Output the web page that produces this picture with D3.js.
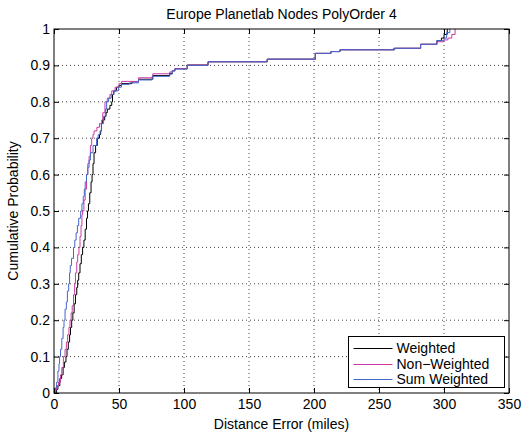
<!DOCTYPE html>
<html>
<head>
<meta charset="utf-8">
<script src="https://cdn.jsdelivr.net/npm/d3@7"></script>
<style>
  body { margin: 0; background: #fff; }
  text { font-family: "Liberation Sans", Arial, sans-serif; }
</style>
</head>
<body>
<script>
// tick values
const xTicks = [0, 50, 100, 150, 200, 250, 300, 350];
const yTicks = [0, 0.1, 0.2, 0.3, 0.4, 0.5, 0.6, 0.7, 0.8, 0.9, 1];

// series: [distance error (miles), cumulative probability]
const weighted = [
  [0, 0], [2, 0.01], [3, 0.02], [4.5, 0.04], [5.9, 0.05], [7, 0.07], [8, 0.085],
  [9.2, 0.1], [10, 0.12], [11, 0.14], [12, 0.16], [12.7, 0.18], [13.6, 0.2],
  [14.5, 0.22], [15.5, 0.245], [16.5, 0.27], [17.5, 0.29], [18.2, 0.31], [19, 0.33],
  [20, 0.355], [21, 0.38], [22, 0.4], [23, 0.42], [24, 0.45], [25, 0.48], [25.8, 0.5],
  [26.5, 0.52], [27.5, 0.55], [28.5, 0.58], [29.3, 0.6], [30, 0.63], [30.8, 0.66],
  [32, 0.68], [33.3, 0.7], [35, 0.71], [35.9, 0.72], [36.5, 0.74], [37.4, 0.75],
  [39, 0.76], [40, 0.77], [41, 0.78], [43, 0.79], [44.4, 0.8], [45, 0.82], [46, 0.83],
  [48, 0.84], [50, 0.845], [52, 0.85], [60, 0.855], [65, 0.862], [76, 0.872],
  [89, 0.878], [91, 0.885], [93, 0.891], [102.5, 0.901], [118.5, 0.91], [164, 0.917],
  [201, 0.933], [213, 0.938], [220, 0.943], [262, 0.947], [282, 0.958], [294.5, 0.968],
  [298, 0.975], [300, 0.985], [302.5, 1]
];
const nonWeighted = [
  [0, 0], [0.8, 0.01], [2, 0.02], [3.5, 0.03], [5, 0.05], [6, 0.07], [7.2, 0.1],
  [8.5, 0.12], [9.5, 0.14], [10.5, 0.16], [11.5, 0.18], [12.3, 0.2], [13.2, 0.22],
  [14, 0.24], [15, 0.27], [15.9, 0.3], [16.5, 0.33], [17.5, 0.36], [18.2, 0.38],
  [19.2, 0.4], [20, 0.43], [20.8, 0.46], [21.5, 0.49], [22, 0.5], [23, 0.53],
  [24, 0.56], [25, 0.6], [26, 0.63], [27, 0.65], [28, 0.68], [29, 0.7], [30, 0.71],
  [30.8, 0.72], [33, 0.73], [35, 0.74], [36.7, 0.75], [37.5, 0.77], [39.2, 0.8],
  [41, 0.81], [43, 0.82], [44.4, 0.83], [47, 0.84], [50, 0.85], [52, 0.856],
  [65, 0.866], [76, 0.877], [89, 0.882], [91, 0.886], [93, 0.891], [102.5, 0.901],
  [118.5, 0.91], [164, 0.917], [201, 0.933], [213, 0.938], [220, 0.943], [261, 0.947],
  [282, 0.958], [294.5, 0.965], [300, 0.97], [303, 0.975], [306, 0.985], [308.5, 1]
];
const sumWeighted = [
  [0, 0], [1.3, 0.015], [2, 0.03], [3, 0.06], [3.8, 0.08], [4.3, 0.1], [5, 0.12],
  [6, 0.15], [7, 0.18], [7.7, 0.2], [8.5, 0.23], [9.5, 0.25], [10.3, 0.28],
  [11.3, 0.3], [12, 0.33], [12.5, 0.35], [13.5, 0.37], [15, 0.4], [16, 0.42],
  [17, 0.44], [18, 0.46], [19, 0.48], [20.5, 0.5], [21.5, 0.52], [22.5, 0.54],
  [23.3, 0.56], [24, 0.58], [25, 0.6], [26, 0.62], [27, 0.64], [28, 0.66], [30, 0.68],
  [32.8, 0.7], [34, 0.71], [35.4, 0.72], [36.5, 0.74], [38, 0.76], [39.5, 0.78],
  [40.5, 0.8], [42, 0.81], [44, 0.82], [46, 0.83], [49.5, 0.84], [51.8, 0.848],
  [58, 0.852], [65, 0.86], [75.5, 0.87], [89, 0.876], [91, 0.885], [93, 0.89],
  [102.5, 0.9], [118.5, 0.91], [164, 0.917], [201, 0.933], [213, 0.938], [220, 0.943],
  [262, 0.947], [282, 0.958], [294.5, 0.968], [300, 0.975], [302, 0.99], [304.5, 1]
];

const seriesNames = ["Weighted", "Non\u2212Weighted", "Sum Weighted"];
const seriesData = [weighted, nonWeighted, sumWeighted];
const colors = ["#000000", "#cc3aa3", "#4466cc"];

const margin = { top: 29, right: 22, bottom: 41, left: 54 },
    width = 531 - margin.left - margin.right,
    height = 434 - margin.top - margin.bottom;

const svg = d3.select("body")
    .append("svg")
    .attr("width", 531)
    .attr("height", 434);

const g = svg.append("g")
    .attr("transform", "translate(" + margin.left + "," + margin.top + ")");

const x = d3.scaleLinear().domain([0, 350]).range([0, width]);
const y = d3.scaleLinear().domain([0, 1]).range([height, 0]);

// grid
g.append("g")
    .selectAll("line")
    .data(xTicks.slice(1, -1))
    .join("line")
    .attr("x1", d => x(d)).attr("x2", d => x(d))
    .attr("y1", 0).attr("y2", height)
    .attr("stroke", "#444")
    .attr("stroke-dasharray", "1,3");

g.append("g")
    .selectAll("line")
    .data(yTicks.slice(1, -1))
    .join("line")
    .attr("x1", 0).attr("x2", width)
    .attr("y1", d => y(d)).attr("y2", d => y(d))
    .attr("stroke", "#444")
    .attr("stroke-dasharray", "1,3");

// curves
const line = d3.line()
    .x(d => x(d[0]))
    .y(d => y(d[1]))
    .curve(d3.curveStepAfter);

g.append("g")
    .selectAll("path")
    .data(seriesData)
    .join("path")
    .attr("d", line)
    .attr("fill", "none")
    .attr("stroke", (d, i) => colors[i])
    .attr("stroke-width", 1);

// axes (inward ticks, matlab style)
const fontSize = "14px";
g.append("g")
    .attr("transform", "translate(0," + height + ")")
    .call(d3.axisBottom(x).tickValues(xTicks).tickSizeInner(-5).tickSizeOuter(0).tickPadding(6))
    .call(a => a.selectAll("text").style("font-size", fontSize).attr("fill", "#000"));

g.append("g")
    .call(d3.axisTop(x).tickValues(xTicks).tickSizeInner(-5).tickSizeOuter(0).tickFormat(""));

g.append("g")
    .call(d3.axisLeft(y).tickValues(yTicks).tickSizeInner(-5).tickSizeOuter(0).tickPadding(4).tickFormat(d => String(d)))
    .call(a => a.selectAll("text").style("font-size", fontSize).attr("fill", "#000"));

g.append("g")
    .attr("transform", "translate(" + width + ",0)")
    .call(d3.axisRight(y).tickValues(yTicks).tickSizeInner(-5).tickSizeOuter(0).tickFormat(""));

g.selectAll(".domain").remove();
g.append("rect")
    .attr("width", width)
    .attr("height", height)
    .attr("fill", "none")
    .attr("stroke", "#000")
    .attr("stroke-width", 1);

// title and labels
svg.append("text")
    .attr("x", margin.left + width / 2)
    .attr("y", 19)
    .attr("text-anchor", "middle")
    .style("font-size", fontSize)
    .text("Europe Planetlab Nodes PolyOrder 4");

svg.append("text")
    .attr("x", margin.left + width / 2)
    .attr("y", 429)
    .attr("text-anchor", "middle")
    .style("font-size", fontSize)
    .text("Distance Error (miles)");

svg.append("text")
    .attr("transform", "translate(18," + (margin.top + height / 2) + ") rotate(-90)")
    .attr("text-anchor", "middle")
    .style("font-size", fontSize)
    .text("Cumulative Probability");

// legend
const legend = svg.append("g").attr("transform", "translate(348.5,336.5)");
legend.append("rect")
    .attr("width", 156)
    .attr("height", 51)
    .attr("fill", "#fff")
    .attr("stroke", "#000");

const rows = legend.selectAll("g.row")
    .data(seriesNames.map((name, i) => ({ name: name, color: colors[i] })))
    .join("g")
    .attr("class", "row")
    .attr("transform", (d, i) => "translate(0," + Math.round(12 + i * 15.5) + ")");

rows.append("line")
    .attr("x1", 5).attr("x2", 44)
    .attr("stroke", d => d.color);

rows.append("text")
    .attr("x", 48)
    .attr("dy", "0.35em")
    .style("font-size", fontSize)
    .text(d => d.name);
</script>
</body>
</html>
